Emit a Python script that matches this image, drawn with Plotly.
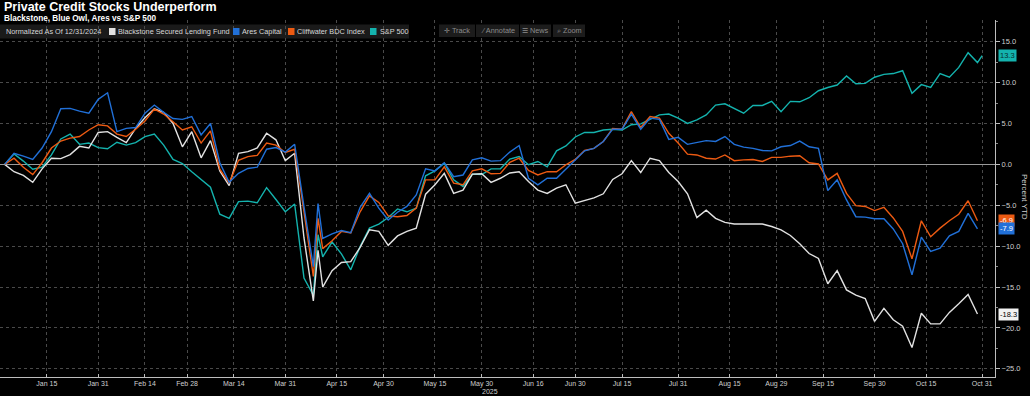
import plotly.graph_objects as go

# ---------------- data ----------------
DATES = [
    "2024-12-31", "2025-01-03", "2025-01-07", "2025-01-10", "2025-01-14", "2025-01-16", "2025-01-21",
    "2025-01-23", "2025-01-27", "2025-01-29", "2025-01-31",
    "2025-02-04", "2025-02-06", "2025-02-10", "2025-02-12", "2025-02-14", "2025-02-19", "2025-02-21",
    "2025-02-25", "2025-02-27",
    "2025-03-03", "2025-03-05", "2025-03-07", "2025-03-11", "2025-03-13", "2025-03-17", "2025-03-19",
    "2025-03-21", "2025-03-25", "2025-03-27", "2025-03-31",
    "2025-04-02", "2025-04-04", "2025-04-08", "2025-04-09", "2025-04-10", "2025-04-14", "2025-04-16",
    "2025-04-21", "2025-04-23", "2025-04-25", "2025-04-29",
    "2025-05-01", "2025-05-05", "2025-05-07", "2025-05-09", "2025-05-13", "2025-05-15", "2025-05-19",
    "2025-05-21", "2025-05-23", "2025-05-28", "2025-05-30",
    "2025-06-03", "2025-06-05", "2025-06-09", "2025-06-11", "2025-06-13", "2025-06-17", "2025-06-20",
    "2025-06-24", "2025-06-26", "2025-06-30",
    "2025-07-02", "2025-07-07", "2025-07-09", "2025-07-11", "2025-07-15", "2025-07-17", "2025-07-21",
    "2025-07-23", "2025-07-25", "2025-07-29", "2025-07-31",
    "2025-08-04", "2025-08-06", "2025-08-08", "2025-08-12", "2025-08-14", "2025-08-18", "2025-08-20",
    "2025-08-22", "2025-08-26", "2025-08-28",
    "2025-09-02", "2025-09-04", "2025-09-08", "2025-09-10", "2025-09-12", "2025-09-16", "2025-09-18",
    "2025-09-22", "2025-09-24", "2025-09-26", "2025-09-30",
    "2025-10-02", "2025-10-06", "2025-10-08", "2025-10-10", "2025-10-14", "2025-10-16", "2025-10-20",
    "2025-10-22", "2025-10-24", "2025-10-28", "2025-10-30", "2025-10-31",
]

BXSL = [
    0, -0.9, -1.35, -2.2, -0.55, 0.75, 0.7, 1.2, 2.2, 2.0, 3.9,
    4.0, 3.3, 2.65, 4.4, 5.7, 6.8, 6.35, 5.0, 2.15,
    4.0, 0.8, 2.9, -0.8, -2.6, 1.35, 1.55, 2.0, 3.8, 3.0, 0.45,
    1.35, -9.0, -16.7, -10.5, -15.0, -13.0, -12.0, -11.9, -10.15, -8.0, -8.2,
    -9.9, -8.75, -8.2, -7.8, -3.65, -2.5, -1.1, -3.55, -3.15, -1.2, -1.15,
    -2.2, -1.7, -1.05, -0.9, -2.1, -3.15, -3.55, -2.9, -2.5, -4.75,
    -4.45, -4.1, -3.6, -1.85, -1.15, 0.45, -1.0, 0.75, 0.45, -1.0, -2.1,
    -3.6, -6.5, -5.6, -6.6, -7.1, -7.3, -7.3, -7.3, -7.3, -7.6,
    -8.0, -8.7, -9.7, -10.9, -11.5, -14.6, -13.0, -15.35, -16.0, -16.4, -19.2,
    -17.6, -19.0, -19.8, -22.4, -18.2, -19.5, -19.5, -18.1, -17.05, -15.9, -18.3, None,
]

ARES = [
    0, 1.35, 1.0, 0.6, 2.0, 4.0, 6.8, 6.85, 6.5, 6.25, 7.95,
    8.75, 4.0, 4.4, 4.5, 6.25, 7.25, 6.35, 5.6, 5.5,
    5.85, 3.6, 5.0, 0.2, -2.2, -1.1, -0.5, -0.35, 1.85, 2.05, 1.5,
    2.45, -5.2, -12.5, -4.8, -9.05, -8.5, -8.1, -8.35, -5.25, -3.55, -5.35,
    -6.8, -5.85, -5.15, -3.75, -0.55, -0.8, 0.2, -1.5, -1.3, 0.55, 0.8,
    0.4, 0.45, 1.5, 2.3, -1.7, -2.5, -1.7, -1.7, -0.55, 0.55,
    1.65, 1.95, 2.8, 4.3, 4.3, 6.15, 4.3, 5.65, 5.5, 3.05, 3.3,
    2.45, 2.65, 2.9, 2.8, 3.4, 2.45, 2.1, 1.95, 1.7, 1.65,
    2.15, 2.3, 2.85, 2.15, 1.95, -3.2, -1.9, -4.35, -6.4, -6.45, -6.65,
    -6.65, -7.9, -9.7, -13.5, -8.9, -10.65, -10.25, -8.75, -8.2, -6.0, -7.9, None,
]

CLIFFWATER = [
    0, 0.75, -0.35, -1.25, 0.2, 2.0, 2.85, 3.2, 3.4, 4.2, 4.85,
    4.7, 3.7, 3.4, 4.3, 5.3, 6.75, 6.15, 5.2, 4.2,
    4.6, 2.6, 4.1, -0.6, -2.3, 0.5, 0.95, 1.1, 2.6, 2.35, 1.45,
    1.85, -5.8, -13.7, -6.6, -10.3, -9.35, -8.2, -8.4, -5.8, -3.85, -4.65,
    -6.3, -6.4, -6.25, -5.35, -1.9, -1.9, -0.3, -2.3, -2.5, -0.8, -0.55,
    -1.15, -1.1, 0.25, 0.75, -0.75, -1.3, -0.9, -0.9, -0.05, 0.6,
    1.7, 1.95, 2.8, 4.4, 4.3, 6.45, 4.5, 5.85, 5.65, 3.8, 2.6,
    1.25, 1.15, 0.75, 0.65, 1.15, 0.45, 0.55, 0.6, 0.35, 0.85,
    0.85, 1.0, 1.05, 0.2, 0.05, -1.9, -1.1, -3.55, -5.05, -5.15, -5.65,
    -5.25, -6.55, -8.2, -11.55, -6.9, -8.85, -7.8, -6.9, -6.1, -4.45, -6.9, None,
]

SPX = [
    0, 1.27, 0.4, -0.6, -0.35, 1.15, 3.1, 3.7, 2.45, 2.6, 2.05,
    1.9, 2.7, 2.35, 2.65, 3.4, 3.7, 2.35, 0.6, 0.1,
    -0.9, -1.9, -2.8, -6.1, -6.6, -4.55, -4.5, -4.7, -2.85, -4.3, -5.8,
    -4.85, -13.9, -16.0, -8.6, -11.3, -9.5, -10.95, -12.9, -10.05, -7.8, -7.3,
    -6.5, -5.45, -5.8, -5.35, -1.4, -0.8, 0.15, -1.9, -2.7, -1.2, -1.25,
    -0.55, -0.55, 0.65, 0.95, -0.05, 0.35, -0.3, 1.65, 2.25, 3.35,
    3.9, 3.9, 4.2, 4.3, 4.2, 4.85, 4.95, 5.45, 6.05, 6.15, 5.65,
    5.0, 5.45, 6.05, 7.25, 7.4, 6.8, 6.25, 7.2, 7.2, 7.7,
    6.45, 7.7, 7.65, 8.15, 9.0, 9.4, 9.7, 10.8, 9.85, 9.9, 10.65,
    11.0, 11.1, 11.45, 8.7, 9.75, 9.4, 11.1, 10.65, 11.85, 13.65, 12.45, 13.3,
]

SERIES_NAMES = ["Blackstone Secured Lending Fund", "Ares Capital", "Cliffwater BDC Index", "S&P 500"]
LAST_VALUES = [-18.3, -7.9, -6.9, 13.3]

TICK_DATES = ["2025-01-15", "2025-01-31", "2025-02-14", "2025-02-28", "2025-03-14", "2025-03-31",
              "2025-04-15", "2025-04-30", "2025-05-15", "2025-05-30", "2025-06-16", "2025-06-30",
              "2025-07-15", "2025-07-31", "2025-08-15", "2025-08-29", "2025-09-15", "2025-09-30",
              "2025-10-15", "2025-10-31"]
TICK_TEXT = ["Jan 15", "Jan 31", "Feb 14", "Feb 28", "Mar 14", "Mar 31", "Apr 15", "Apr 30",
             "May 15", "May 30", "Jun 16", "Jun 30", "Jul 15", "Jul 31", "Aug 15", "Aug 29",
             "Sep 15", "Sep 30", "Oct 15", "Oct 31"]
HOLIDAYS = ["2025-01-01", "2025-01-09", "2025-01-20", "2025-02-17", "2025-04-18", "2025-05-26",
            "2025-06-19", "2025-07-04", "2025-09-01"]
Y_TICKS = [-25, -20, -15, -10, -5, 0, 5, 10, 15]

# ---------------- style ----------------
WHITE = "#e2e2e2"
BLUE = "#2170d8"
ORANGE = "#ec5a12"
TEAL = "#14b3ae"
FONT = "Liberation Sans, Arial, sans-serif"

W, H = 1030, 396
ML, MR, MT, MB = 0, 35, 20, 19
PW, PH = W - ML - MR, H - MT - MB


def px(xpix):
    return (xpix - ML) / PW


def py(ypix):
    return (H - MB - ypix) / PH


fig = go.Figure()
order = [(SPX, TEAL, 3), (BXSL, WHITE, 0), (CLIFFWATER, ORANGE, 2), (ARES, BLUE, 1)]
for vals, col, idx in order:
    fig.add_trace(go.Scatter(x=DATES, y=vals, mode="lines", name=SERIES_NAMES[idx],
                             line=dict(color=col, width=1.4), hoverinfo="skip", showlegend=False))

fig.update_layout(
    width=W, height=H,
    margin=dict(l=ML, r=MR, t=MT, b=MB, pad=0),
    paper_bgcolor="#000000", plot_bgcolor="#000000",
    font=dict(family=FONT, size=8, color="#cfcfcf"),
    showlegend=False,
)

fig.update_xaxes(
    type="date",
    range=["2024-12-30", "2025-11-04 18:00"],
    rangebreaks=[dict(bounds=["sat", "mon"]), dict(values=HOLIDAYS)],
    tickvals=TICK_DATES, ticktext=TICK_TEXT,
    tickfont=dict(size=7, color="#cfcfcf", family=FONT),
    showgrid=True, gridcolor="#4a4a4a", griddash="dot", gridwidth=1,
    showline=True, linecolor="#bdbdbd", linewidth=1,
    ticks="inside", ticklen=3, tickcolor="#bdbdbd",
    zeroline=False, fixedrange=True,
)

fig.update_yaxes(
    side="right",
    range=[-26.0, 17.65],
    tickvals=Y_TICKS, tickformat=".1f",
    tickfont=dict(size=7.5, color="#cfcfcf", family=FONT),
    showgrid=True, gridcolor="#4a4a4a", griddash="dot", gridwidth=1,
    zeroline=True, zerolinecolor="#9a9a9a", zerolinewidth=1,
    showline=True, linecolor="#bdbdbd", linewidth=1,
    ticks="outside", ticklen=4, tickcolor="#bdbdbd",
    minor=dict(dtick=2.5, tick0=0, ticks="outside", ticklen=2, tickcolor="#8a8a8a", showgrid=False),
    fixedrange=True,
)

ann = []
shapes = []

# title and subtitle
ann.append(dict(text="<b>Private Credit Stocks Underperform</b>", x=px(2), y=py(7.5), xref="paper", yref="paper",
                xanchor="left", yanchor="middle", showarrow=False,
                font=dict(family=FONT, size=12.5, color="#ffffff")))
ann.append(dict(text="<b>Blackstone, Blue Owl, Ares vs S&P 500</b>", x=px(2), y=py(18.5), xref="paper", yref="paper",
                xanchor="left", yanchor="middle", showarrow=False,
                font=dict(family=FONT, size=8.2, color="#ffffff")))

# legend bar
LEG_Y = 31.5
LEG_FS = 7.3
shapes.append(dict(type="rect", xref="paper", yref="paper", x0=px(0), x1=px(409), y0=py(38.5), y1=py(24.5),
                   fillcolor="#1a1a1a", line=dict(width=0), layer="below"))
ann.append(dict(text="Normalized As Of 12/31/2024", x=px(4), y=py(LEG_Y), xref="paper", yref="paper",
                xanchor="left", yanchor="middle", showarrow=False, font=dict(family=FONT, size=LEG_FS, color="#d8d8d8")))
leg_items = [(109, 116, WHITE, 0), (233, 240, BLUE, 1), (288, 295, ORANGE, 2), (370, 378, TEAL, 3)]
for sx, tx, col, idx in leg_items:
    shapes.append(dict(type="rect", xref="paper", yref="paper", x0=px(sx), x1=px(sx + 6.5),
                       y0=py(LEG_Y + 3.5), y1=py(LEG_Y - 3.5), fillcolor=col, line=dict(width=0)))
    ann.append(dict(text=SERIES_NAMES[idx], x=px(tx), y=py(LEG_Y), xref="paper", yref="paper",
                    xanchor="left", yanchor="middle", showarrow=False,
                    font=dict(family=FONT, size=LEG_FS, color="#d8d8d8")))

# toolbar
tools = [(439, 475, "✛ Track"), (476, 519, "⁄ Annotate"), (520, 551, "☰ News"), (553, 585, "⌕ Zoom")]
for x0, x1, t in tools:
    shapes.append(dict(type="rect", xref="paper", yref="paper", x0=px(x0), x1=px(x1),
                       y0=py(37), y1=py(24.5), fillcolor="#1c1c1c", line=dict(width=0)))
    ann.append(dict(text=t, x=px((x0 + x1) / 2), y=py(30.5), xref="paper", yref="paper",
                    xanchor="center", yanchor="middle", showarrow=False,
                    font=dict(family=FONT, size=7.3, color="#8c8c8c")))

# end-value badges
badges = [(LAST_VALUES[3], TEAL, "#06302f"), (LAST_VALUES[2], ORANGE, "#ffffff"),
          (LAST_VALUES[1], BLUE, "#ffffff"), (LAST_VALUES[0], "#f2f2f2", "#000000")]
for v, bg, fc in badges:
    ann.append(dict(text=f"{v:.1f}", x=1.0, y=v, xref="paper", yref="y", xanchor="left", yanchor="middle",
                    xshift=3, showarrow=False, bgcolor=bg, borderpad=1,
                    font=dict(family=FONT, size=7.5, color=fc)))

# axis titles
ann.append(dict(text="Percent YTD", x=px(1025), y=py(197), xref="paper", yref="paper", textangle=90,
                xanchor="center", yanchor="middle", showarrow=False,
                font=dict(family=FONT, size=8, color="#cfcfcf")))
ann.append(dict(text="2025", x=px(490), y=py(391.5), xref="paper", yref="paper",
                xanchor="center", yanchor="middle", showarrow=False,
                font=dict(family=FONT, size=7, color="#cfcfcf")))

fig.update_layout(annotations=ann, shapes=shapes)

fig.write_html("out.html", config={"displayModeBar": False},
               post_script="document.body.style.margin='0';document.body.style.background='#000';")
